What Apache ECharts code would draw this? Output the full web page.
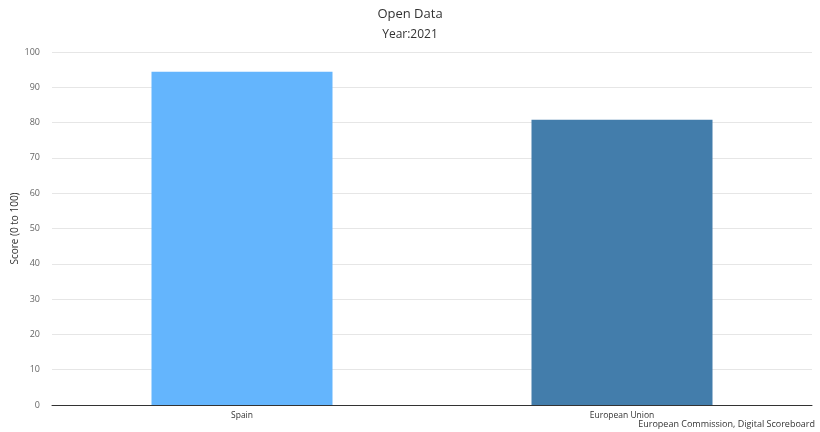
<!DOCTYPE html>
<html>
<head>
<meta charset="utf-8">
<script src="https://cdn.jsdelivr.net/npm/echarts@6/dist/echarts.min.js"></script>
<style>
  html, body { margin: 0; padding: 0; background: #fff; }
  #chart { width: 820px; height: 432px; }
</style>
</head>
<body>
<div id="chart"></div>
<script>
const categories = ['Spain', 'European Union']
const scores = [94.4, 80.8]
const barColors = ['#64b5fd', '#437dab']
const yTicks = [0, 10, 20, 30, 40, 50, 60, 70, 80, 90, 100]

const font = 'Open Sans'
const chart = echarts.init(document.getElementById('chart'))
chart.setOption({
  backgroundColor: '#fff',
  animation: false,
  title: [{
    text: 'Open Data',
    left: 'center',
    top: 3,
    textStyle: { fontFamily: font, fontWeight: 'normal', fontSize: 13, color: '#333' }
  }, {
    text: 'Year:2021',
    left: 'center',
    top: 24,
    textStyle: { fontFamily: font, fontWeight: 'normal', fontSize: 12, color: '#333' }
  }, {
    text: 'European Commission, Digital Scoreboard',
    right: 5,
    top: 420,
    padding: 0,
    textStyle: { fontFamily: font, fontWeight: 'normal', fontSize: 9, color: '#333' }
  }],
  grid: { left: 52, right: 8, top: 52, bottom: 27, outerBoundsMode: 'none' },
  xAxis: {
    type: 'category',
    data: categories,
    axisTick: { show: false },
    axisLine: { lineStyle: { color: '#333', width: 1 } },
    axisLabel: { fontFamily: font, fontSize: 8.5, color: '#333', margin: 6 }
  },
  yAxis: {
    type: 'value',
    min: yTicks[0],
    max: yTicks[yTicks.length - 1],
    interval: 10,
    name: 'Score (0 to 100)',
    nameLocation: 'middle',
    nameGap: 32,
    nameMoveOverlap: false,
    nameTextStyle: { fontFamily: font, fontSize: 10, color: '#333' },
    axisLine: { show: false },
    axisTick: { show: false },
    axisLabel: { fontFamily: font, fontSize: 9, color: '#666', margin: 12 },
    splitLine: { lineStyle: { color: '#e6e6e6' } }
  },
  series: [{
    type: 'bar',
    barWidth: 181,
    data: scores.map((v, i) => ({ value: v, itemStyle: { color: barColors[i] } }))
  }]
})
</script>
</body>
</html>
